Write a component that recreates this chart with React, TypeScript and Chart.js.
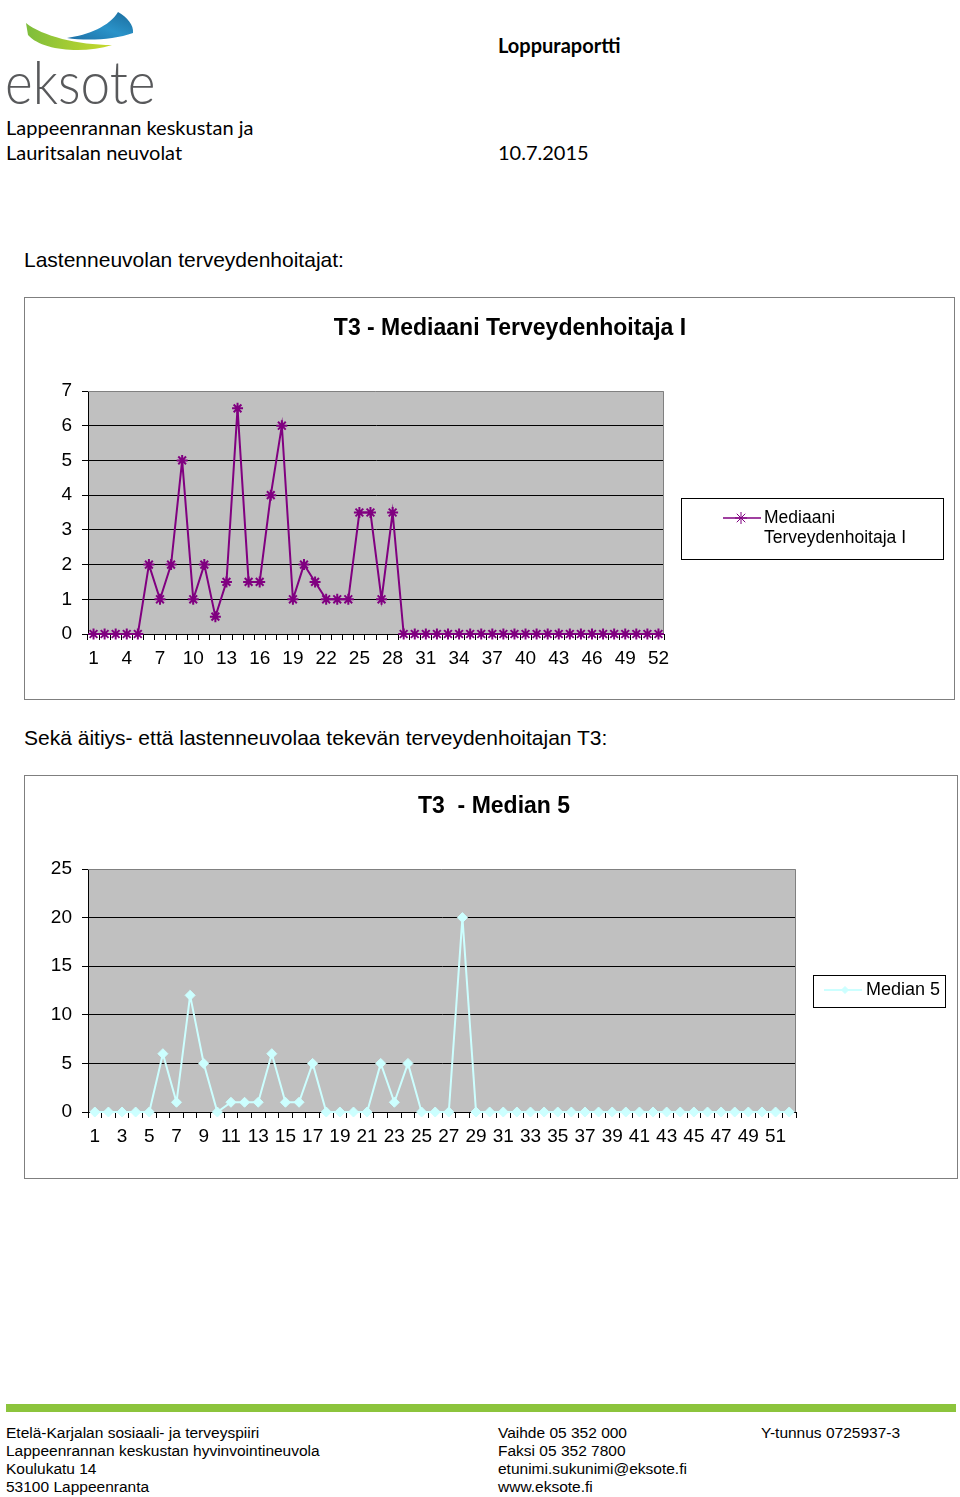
import React, { useEffect, useRef } from 'react';
import { Chart, registerables } from 'chart.js';
import { drawPoint } from 'chart.js/helpers';

Chart.register(...registerables);

// ---------- data ----------
const WEEKS = [
  '1', '2', '3', '4', '5', '6', '7', '8', '9', '10', '11', '12', '13',
  '14', '15', '16', '17', '18', '19', '20', '21', '22', '23', '24', '25', '26',
  '27', '28', '29', '30', '31', '32', '33', '34', '35', '36', '37', '38', '39',
  '40', '41', '42', '43', '44', '45', '46', '47', '48', '49', '50', '51', '52',
];

const MEDIAANI_TH1 = [
  0, 0, 0, 0, 0, 2, 1, 2, 5, 1, 2, 0.5, 1.5,
  6.5, 1.5, 1.5, 4, 6, 1, 2, 1.5, 1, 1, 1, 3.5, 3.5,
  1, 3.5, 0, 0, 0, 0, 0, 0, 0, 0, 0, 0, 0,
  0, 0, 0, 0, 0, 0, 0, 0, 0, 0, 0, 0, 0,
];

const MEDIAN_5 = [
  0, 0, 0, 0, 0, 6, 1, 12, 5, 0, 1, 1, 1,
  6, 1, 1, 5, 0, 0, 0, 0, 5, 1, 5, 0, 0,
  0, 20, 0, 0, 0, 0, 0, 0, 0, 0, 0, 0, 0,
  0, 0, 0, 0, 0, 0, 0, 0, 0, 0, 0, 0, 0,
];

const TITLE_1 = 'T3 - Mediaani Terveydenhoitaja I';
const LEGEND_1 = ['Mediaani', 'Terveydenhoitaja I'];
const TITLE_2 = 'T3  - Median 5';
const LEGEND_2 = ['Median 5'];

const Y1_MAX = 7;
const Y1_STEP = 1;
const Y2_MAX = 25;
const Y2_STEP = 5;
const X1_LABEL_EVERY = 3;
const X2_LABEL_EVERY = 2;

// ---------- styling ----------
const ARIAL = '"Liberation Sans", Arial, sans-serif';
const CALIBRI = 'Lato, "Open Sans", sans-serif';

const decorPlugin = {
  id: 'decor',
  beforeDraw(chart: any) {
    const { ctx, chartArea: a } = chart;
    ctx.save();
    ctx.fillStyle = '#ffffff';
    ctx.fillRect(0, 0, chart.width, chart.height);
    ctx.fillStyle = '#C0C0C0';
    ctx.fillRect(a.left, a.top, a.right - a.left, a.bottom - a.top);
    ctx.restore();
  },
  beforeDatasetsDraw(chart: any) {
    const { ctx, chartArea: a } = chart;
    ctx.save();
    ctx.strokeStyle = '#808080';
    ctx.lineWidth = 1;
    ctx.beginPath();
    ctx.moveTo(a.left, Math.round(a.top) + 0.5);
    ctx.lineTo(Math.round(a.right) - 0.5, Math.round(a.top) + 0.5);
    ctx.lineTo(Math.round(a.right) - 0.5, a.bottom);
    ctx.stroke();
    ctx.restore();
  },
  afterDraw(chart: any, _a: any, opts: any) {
    const { ctx } = chart;
    ctx.save();
    // frame
    ctx.strokeStyle = '#7f7f7f';
    ctx.lineWidth = 1;
    ctx.strokeRect(0.5, 0.5, chart.width - 1, chart.height - 1);
    // title
    ctx.fillStyle = '#000';
    ctx.font = `bold ${opts.titleSize}px ${ARIAL}`;
    ctx.textAlign = 'center';
    ctx.textBaseline = 'middle';
    ctx.fillText(opts.title, opts.titleX, opts.titleY);
    // legend
    const lg = opts.legend;
    const ds = chart.data.datasets[0];
    ctx.strokeStyle = '#000';
    ctx.lineWidth = 1;
    ctx.strokeRect(lg.x + 0.5, lg.y + 0.5, lg.w, lg.h);
    ctx.strokeStyle = ds.borderColor;
    ctx.lineWidth = lg.lineWidth;
    ctx.beginPath();
    ctx.moveTo(lg.x1, lg.ly);
    ctx.lineTo(lg.x2, lg.ly);
    ctx.stroke();
    ctx.fillStyle = ds.pointBackgroundColor;
    ctx.strokeStyle = ds.pointBorderColor;
    ctx.lineWidth = lg.markerBorder;
    drawPoint(ctx, { pointStyle: ds.pointStyle, rotation: 0, radius: lg.markerRadius, borderWidth: lg.markerBorder }, lg.mx, lg.ly);
    ctx.fillStyle = '#000';
    ctx.font = `${lg.fontSize}px ${ARIAL}`;
    ctx.textAlign = 'left';
    ctx.textBaseline = 'middle';
    lg.lines.forEach((t: string, i: number) => ctx.fillText(t, lg.tx, lg.ly + i * lg.lineH));
    ctx.restore();
  },
};

function makeConfig(p: {
  labels: string[];
  values: number[];
  label: string;
  color: string;
  pointStyle: string;
  pointRadius: number;
  pointBorderWidth: number;
  yMax: number;
  yStep: number;
  labelEvery: number;
  padRight: number;
  xHeight: number;
  decor: any;
}) {
  const tickFont = { family: ARIAL, size: 19 };
  return {
    type: 'line',
    data: {
      labels: p.labels,
      datasets: [
        {
          label: p.label,
          data: p.values,
          borderColor: p.color,
          backgroundColor: p.color,
          borderWidth: 2,
          pointStyle: p.pointStyle,
          pointRadius: p.pointRadius,
          pointBorderWidth: p.pointBorderWidth,
          pointBorderColor: p.color,
          pointBackgroundColor: p.color,
          tension: 0,
          fill: false,
          clip: false,
        },
      ],
    },
    options: {
      animation: false,
      responsive: false,
      maintainAspectRatio: false,
      devicePixelRatio: 1,
      events: [],
      layout: { padding: { top: 94, right: p.padRight, bottom: 0, left: 0 } },
      plugins: {
        legend: { display: false },
        title: { display: false },
        tooltip: { enabled: false },
        decor: p.decor,
      },
      scales: {
        x: {
          type: 'category',
          offset: true,
          grid: { offset: true, drawOnChartArea: false, drawTicks: true, tickLength: 6, color: '#000', tickColor: '#000' },
          border: { display: true, color: '#000', width: 1 },
          ticks: {
            autoSkip: false,
            maxRotation: 0,
            minRotation: 0,
            padding: 7,
            color: '#000',
            font: tickFont,
            callback: (_v: any, i: number) => (i % p.labelEvery === 0 ? p.labels[i] : ''),
          },
          afterFit: (s: any) => {
            s.height = p.xHeight;
          },
        },
        y: {
          min: 0,
          max: p.yMax,
          ticks: { stepSize: p.yStep, padding: 10, color: '#000', font: tickFont },
          grid: {
            drawTicks: true,
            tickLength: 6,
            tickColor: '#000',
            color: (c: any) => (c.tick && c.tick.value === p.yMax ? 'rgba(0,0,0,0)' : '#000'),
          },
          border: { display: true, color: '#000', width: 1 },
          afterFit: (s: any) => {
            s.width = 64;
          },
        },
      },
    },
    plugins: [decorPlugin],
  };
}

function ChartCanvas({ left, top, width, height, config }: any) {
  const ref = useRef<HTMLCanvasElement | null>(null);
  useEffect(() => {
    if (!ref.current) return;
    const chart = new Chart(ref.current, config);
    return () => chart.destroy();
  }, []);
  return (
    <canvas
      ref={ref}
      width={width}
      height={height}
      style={{ position: 'absolute', left, top, width, height, display: 'block' }}
    />
  );
}

function T({ x, y, size, family = ARIAL, weight = 400, color = '#000', children, k = 0.52 }: any) {
  return (
    <div
      style={{
        position: 'absolute',
        left: x,
        top: y - size * k,
        fontFamily: family,
        fontSize: size,
        fontWeight: weight,
        lineHeight: `${size}px`,
        color,
        whiteSpace: 'pre',
      }}
    >
      {children}
    </div>
  );
}

export default function App() {
  const config1 = makeConfig({
    labels: WEEKS,
    values: MEDIAANI_TH1,
    label: LEGEND_1.join(' '),
    color: '#800080',
    pointStyle: 'star',
    pointRadius: 5.5,
    pointBorderWidth: 2,
    yMax: Y1_MAX,
    yStep: Y1_STEP,
    labelEvery: X1_LABEL_EVERY,
    padRight: 291,
    xHeight: 66,
    decor: {
      title: TITLE_1,
      titleSize: 23,
      titleX: 486,
      titleY: 32,
      legend: {
        x: 657, y: 201, w: 262, h: 61,
        x1: 699, x2: 737, ly: 221, mx: 717,
        tx: 740, lineH: 20, lines: LEGEND_1, fontSize: 17.5,
        lineWidth: 1.5, markerRadius: 6, markerBorder: 1,
      },
    },
  });
  const config2 = makeConfig({
    labels: WEEKS,
    values: MEDIAN_5,
    label: LEGEND_2.join(' '),
    color: '#CCFFFF',
    pointStyle: 'rectRot',
    pointRadius: 5,
    pointBorderWidth: 1,
    yMax: Y2_MAX,
    yStep: Y2_STEP,
    labelEvery: X2_LABEL_EVERY,
    padRight: 162,
    xHeight: 67,
    decor: {
      title: TITLE_2,
      titleSize: 23,
      titleX: 470,
      titleY: 32,
      legend: {
        x: 789, y: 200, w: 132, h: 32,
        x1: 800, x2: 838, ly: 215, mx: 821,
        tx: 842, lineH: 20, lines: LEGEND_2, fontSize: 18,
        lineWidth: 2, markerRadius: 3.5, markerBorder: 1,
      },
    },
  });

  return (
    <div style={{ position: 'absolute', left: 0, top: 0, width: 960, height: 1497, background: '#fff', overflow: 'hidden' }}>
      {/* logo */}
      <svg width={170} height={60} style={{ position: 'absolute', left: 0, top: 0 }}>
        <defs>
          <linearGradient id="gGreen" x1="0" y1="0" x2="1" y2="0">
            <stop offset="0" stopColor="#7dbd3c" />
            <stop offset="1" stopColor="#c9da2b" />
          </linearGradient>
          <linearGradient id="gBlue" x1="0" y1="1" x2="1" y2="0">
            <stop offset="0" stopColor="#1d6fa5" />
            <stop offset="0.5" stopColor="#2a93c9" />
            <stop offset="1" stopColor="#1b6b9c" />
          </linearGradient>
        </defs>
        <path d="M26,23 C42,36 78,45 112,45 C84,54 42,51 28,35 Z" fill="url(#gGreen)" />
        <path d="M67,38 C88,35 110,26 118,12 C127,17 134,25 133,33 C114,40 86,41 67,38 Z" fill="url(#gBlue)" />
      </svg>
      <div
        style={{
          position: 'absolute', left: 5, top: 46, fontFamily: CALIBRI, fontWeight: 300,
          fontSize: 60, lineHeight: '70px', color: '#58595b', transform: 'scaleX(0.885)', transformOrigin: '0 0',
        }}
      >
        eksote
      </div>

      <T x={6} y={127} size={20} family={CALIBRI}>Lappeenrannan keskustan ja</T>
      <T x={6} y={152} size={20} family={CALIBRI}>Lauritsalan neuvolat</T>
      <T x={498} y={45} size={20} family={CALIBRI} weight={700}>Loppuraportti</T>
      <T x={498} y={152} size={20} family={CALIBRI}>10.7.2015</T>

      <T x={24} y={260} size={21}>Lastenneuvolan terveydenhoitajat:</T>
      <ChartCanvas left={24} top={297} width={931} height={403} config={config1} />

      <T x={24} y={738} size={21}>Sekä äitiys- että lastenneuvolaa tekevän terveydenhoitajan T3:</T>
      <ChartCanvas left={24} top={775} width={934} height={404} config={config2} />

      <div style={{ position: 'absolute', left: 6, top: 1404, width: 950, height: 8, background: '#8cc43c' }} />

      <T x={6} y={1433} size={15.5}>Etelä-Karjalan sosiaali- ja terveyspiiri</T>
      <T x={6} y={1451} size={15.5}>Lappeenrannan keskustan hyvinvointineuvola</T>
      <T x={6} y={1469} size={15.5}>Koulukatu 14</T>
      <T x={6} y={1487} size={15.5}>53100 Lappeenranta</T>
      <T x={498} y={1433} size={15.5}>Vaihde 05 352 000</T>
      <T x={498} y={1451} size={15.5}>Faksi 05 352 7800</T>
      <T x={498} y={1469} size={15.5}>etunimi.sukunimi@eksote.fi</T>
      <T x={498} y={1487} size={15.5}>www.eksote.fi</T>
      <T x={761} y={1433} size={15.5}>Y-tunnus 0725937-3</T>
    </div>
  );
}
